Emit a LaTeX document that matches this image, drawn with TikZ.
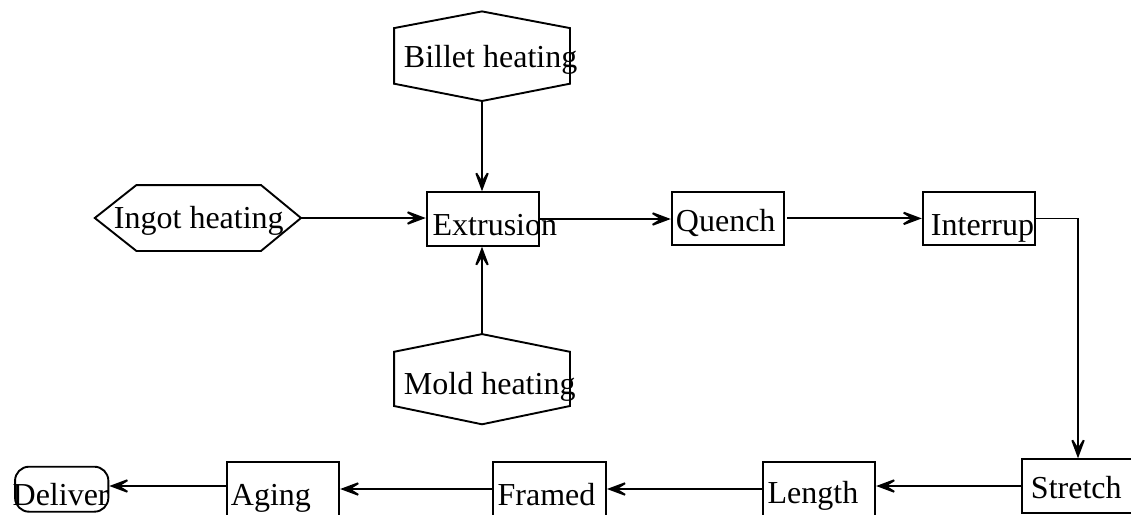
\documentclass[tikz,border=0pt]{standalone}
\usepackage{fontspec}
\setmainfont{Liberation Serif}
\usetikzlibrary{arrows.meta,calc}
\begin{document}
\begin{tikzpicture}[x=1pt,y=-1pt,
  line width=1.9pt,
  box/.style={draw, rectangle, inner sep=0pt, minimum width=112.6pt, minimum height=53.5pt},
  hexarea/.style={rectangle, inner sep=0pt},
  lbl/.style={anchor=base west, inner sep=0pt, font=\fontsize{32}{36}\selectfont},
  flow/.style={-{Stealth[inset'=0pt 0.6, scale=2.3]}}
]
\useasboundingbox (0,0) rectangle (1131,514);
% boxes
\node[box] (extr) at (483,219) {};
\node[box] (quench) at (728,218.4) {};
\node[box] (interr) at (979,218.5) {};
\node[box] (stretch) at (1078,486) {};
\node[box] (length) at (818.9,489) {};
\node[box] (framed) at (549.7,489) {};
\node[box] (aging) at (282.9,489) {};
\node[draw, rectangle, rounded corners=14pt, inner sep=0pt, minimum width=93.3pt, minimum height=45pt] (deliver) at (61.7,489.2) {};
% hexagon areas
\node[hexarea, minimum width=174pt, minimum height=87.7pt] (billet) at (482,56.2) {};
\node[hexarea, minimum width=174pt, minimum height=88.3pt] (mold) at (482,379.2) {};
\node[hexarea, minimum width=204.3pt, minimum height=64pt] (ingot) at (197.9,218) {};
% hexagon outlines
\draw (billet.north) -- ([yshift=-16.7pt]billet.north east) -- ([yshift=17.3pt]billet.south east)
  -- (billet.south) -- ([yshift=17.3pt]billet.south west) -- ([yshift=-16.7pt]billet.north west) -- cycle;
\draw (mold.north) -- ([yshift=-17.7pt]mold.north east) -- ([yshift=18.3pt]mold.south east)
  -- (mold.south) -- ([yshift=18.3pt]mold.south west) -- ([yshift=-17.7pt]mold.north west) -- cycle;
\draw (ingot.west) -- ([xshift=41.6pt]ingot.north west) -- ([xshift=-40pt]ingot.north east)
  -- (ingot.east) -- ([xshift=-40pt]ingot.south east) -- ([xshift=41.6pt]ingot.south west) -- cycle;
% labels
\node[lbl] (tbillet) at (403,67.7) {Billet heating};
\node[lbl] (tmold) at (403,394) {Mold heating};
\node[lbl] (tingot) at (113,228) {Ingot heating};
\node[lbl] (textr) at (431.7,235) {Extrusion};
\node[lbl] (tquench) at (675,231.7) {Quench};
\node[lbl] (tinterr) at (930,235) {Interrup};
\node[lbl] (tstretch) at (1030,498) {Stretch};
\node[lbl] (tlength) at (766.7,503.5) {Length};
\node[lbl] (tframed) at (496.7,505) {Framed};
\node[lbl] (taging) at (230,505) {Aging};
\node[lbl] (tdeliver) at (11.7,505.5) {Deliver};
% connectors
\draw[flow] (billet.south) -- (billet.south |- extr.north);
\draw[flow] (mold.north) -- (mold.north |- extr.south);
\draw[flow] (ingot.east) -- (ingot.east -| extr.west);
\draw[flow] (extr.east) -- (extr.east -| quench.west);
\draw[flow, shorten <=2pt] (quench.east) -- (quench.east -| interr.west);
\draw[flow] (interr.east) -| (stretch.north);
\draw[flow] (stretch.west) -- (stretch.west -| length.east);
\draw[flow] (length.west) -- (length.west -| framed.east);
\draw[flow] (framed.west) -- (framed.west -| aging.east);
\draw[flow] ([yshift=3pt]aging.west) -- ([yshift=3pt]aging.west -| deliver.east);
\end{tikzpicture}
\end{document}
